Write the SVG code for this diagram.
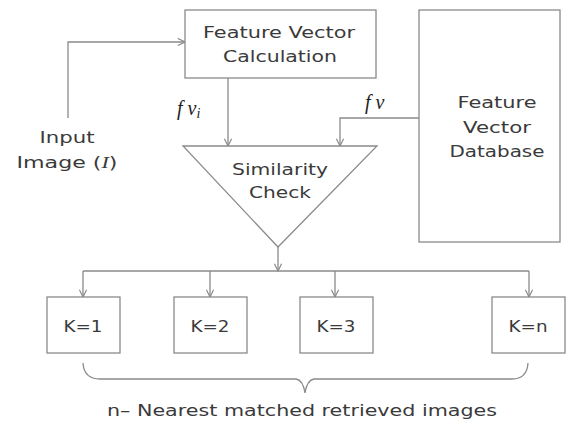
<svg xmlns="http://www.w3.org/2000/svg" width="569" height="421" viewBox="0 0 569 421">
<defs>
<style>
.box{fill:#fff;stroke:#8a8a8a;stroke-width:1.3}
.ln{fill:none;stroke:#8a8a8a;stroke-width:1.3}
.t{font-family:"DejaVu Sans","Open Sans",sans-serif;font-size:16.5px;fill:#3a3a3a;text-anchor:middle}
.m{font-family:"Liberation Serif",serif;font-style:italic;font-size:20px;fill:#222}
</style>
<marker id="ah" viewBox="0 0 10 10" refX="9" refY="5" markerWidth="9" markerHeight="9" markerUnits="userSpaceOnUse" orient="auto">
<path d="M1,1 L9,5 L1,9" fill="none" stroke="#8a8a8a" stroke-width="1.3"/>
</marker>
</defs>
<g id="connectors">
<path class="ln" d="M68,118 V42 H185" marker-end="url(#ah)"/>
<path class="ln" d="M228,78 V146" marker-end="url(#ah)"/>
<path class="ln" d="M419,118 H340 V146" marker-end="url(#ah)"/>
<path class="ln" d="M278,247 V271"  marker-end="url(#ah)"/>
<path class="ln" d="M83,271 H529"/>
<path class="ln" d="M83,271 V297" marker-end="url(#ah)"/>
<path class="ln" d="M210,271 V297" marker-end="url(#ah)"/>
<path class="ln" d="M335,271 V297" marker-end="url(#ah)"/>
<path class="ln" d="M529,271 V297" marker-end="url(#ah)"/>
<path class="ln" d="M83,363 Q84,379 100,379 H296 Q303,380 305,393 Q307,380 314,379 H512 Q527,379 528,363"/>
</g>
<g id="input"><text class="t" x="67" y="143" textLength="55" lengthAdjust="spacingAndGlyphs">Input</text><text class="t" x="67" y="168" textLength="101" lengthAdjust="spacingAndGlyphs">Image (<tspan font-family="Liberation Serif" font-style="italic">I</tspan>)</text></g>
<g id="fvc"><rect class="box" x="185" y="10" width="191" height="68"/><text class="t" x="279" y="38" textLength="152" lengthAdjust="spacingAndGlyphs">Feature Vector</text><text class="t" x="280" y="62" textLength="114" lengthAdjust="spacingAndGlyphs">Calculation</text></g>
<g id="fvi"><text class="m" x="177" y="115">f v<tspan font-size="14" dy="3">i</tspan></text></g>
<g id="fv"><text class="m" x="365" y="109">f v</text></g>
<g id="db"><rect class="box" x="419" y="10" width="141" height="232"/><text class="t" x="497" y="108" textLength="79" lengthAdjust="spacingAndGlyphs">Feature</text><text class="t" x="497" y="133" textLength="68" lengthAdjust="spacingAndGlyphs">Vector</text><text class="t" x="497" y="157" textLength="95" lengthAdjust="spacingAndGlyphs">Database</text></g>
<g id="sim"><path class="box" d="M183,146 H377 L278,247 Z"/><text class="t" x="280" y="175" textLength="96" lengthAdjust="spacingAndGlyphs">Similarity</text><text class="t" x="280" y="198" textLength="62" lengthAdjust="spacingAndGlyphs">Check</text></g>
<g id="k1"><rect class="box" x="47" y="297" width="73" height="56"/><text class="t" x="83" y="332" textLength="39" lengthAdjust="spacingAndGlyphs">K=1</text></g>
<g id="k2"><rect class="box" x="174" y="297" width="73" height="56"/><text class="t" x="210" y="332" textLength="39" lengthAdjust="spacingAndGlyphs">K=2</text></g>
<g id="k3"><rect class="box" x="300" y="297" width="73" height="56"/><text class="t" x="336" y="332" textLength="39" lengthAdjust="spacingAndGlyphs">K=3</text></g>
<g id="kn"><rect class="box" x="492" y="297" width="73" height="56"/><text class="t" x="528" y="332" textLength="39" lengthAdjust="spacingAndGlyphs">K=n</text></g>
<g id="caption"><text class="t" x="302" y="416" textLength="390" lengthAdjust="spacingAndGlyphs">n– Nearest matched retrieved images</text></g>
</svg>
